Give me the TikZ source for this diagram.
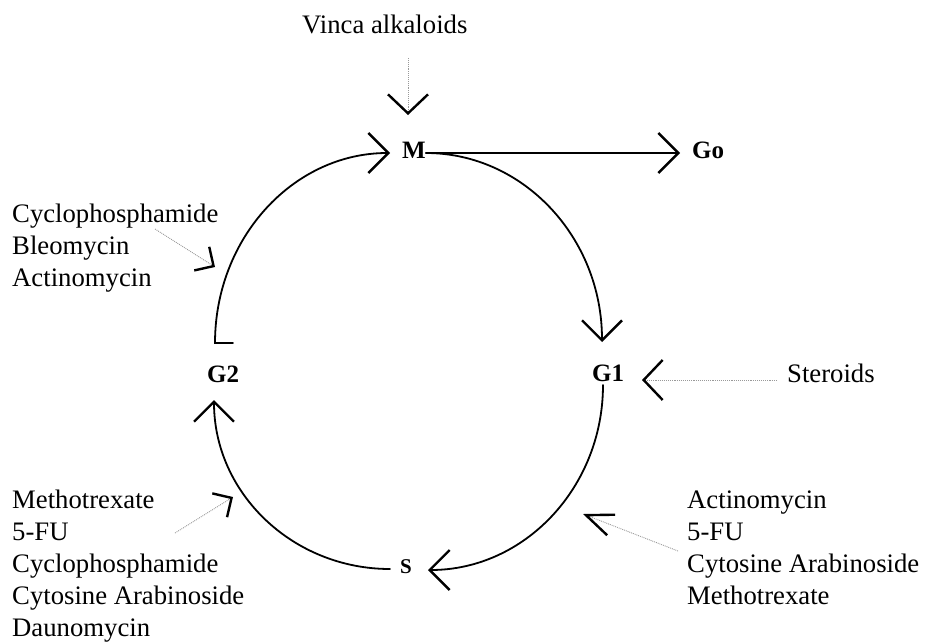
\documentclass[tikz,border=0pt]{standalone}
\usepackage{fontspec}
\setmainfont{Liberation Serif}
\usetikzlibrary{arrows.meta}
\begin{document}
\begin{tikzpicture}[x=1pt,y=-1pt,
  cyc/.style={line width=1.8pt, line cap=round,
    -{Straight Barb[length=20pt,width=40pt,line width=2.4pt]}},
  drug/.style={gray!80, line width=0.9pt, densely dotted},
  bighead/.style={-{Straight Barb[black,length=19pt,width=40pt,line width=2.4pt]}},
  cornerhead/.style={-{Straight Barb[black,length=14pt,width=28pt,line width=2.4pt]}},
  narrowhead/.style={-{Straight Barb[black,length=27pt,width=22pt,line width=2.4pt]}},
  lab/.style={font=\fontsize{25}{30}\selectfont\bfseries, inner sep=1pt, anchor=base west},
  txt/.style={font=\fontsize{26.7}{32}\selectfont, align=left, inner sep=0pt, anchor=base west}]
\useasboundingbox (0,0) rectangle (928,643);

% phase labels
\node[lab] (M)  at (401,158) {M};
\node[lab] (Go) at (691,158) {Go};
\node[lab] (G1) at (591,381) {G1};
\node[lab] (G2) at (206,382) {G2};
\node[lab, font=\fontsize{21}{25}\selectfont\bfseries] (S) at (399,573) {S};

% drug labels (base anchor = baseline of the last line)
\node[txt] (vinca) at (302,33) {Vinca alkaloids};
\node[txt] (ster)  at (787,382) {Steroids};
\node[txt] (tl) at (12,286) {Cyclophosphamide\\Bleomycin\\Actinomycin};
\node[txt] (bl) at (12,636) {Methotrexate\\5-FU\\Cyclophosphamide\\Cytosine Arabinoside\\Daunomycin};
\node[txt] (br) at (687,604) {Actinomycin\\5-FU\\Cytosine Arabinoside\\Methotrexate};

% cycle coordinates
\coordinate (g2tick) at (233,343);
\coordinate (g2top)  at (215,343);
\coordinate (min)    at (390,153);
\coordinate (mout)   at (426,153);
\coordinate (gotip)  at (680,153);
\coordinate (g1in)   at (602,342);
\coordinate (g1out)  at (603,385);
\coordinate (sin)    at (428,570);
\coordinate (sout)   at (390,569);
\coordinate (g2in)   at (214,400);

% cycle arrows
\draw[cyc] (mout) -- (gotip);
\draw[cyc] (g2tick) -- (g2top) .. controls (215,238.1) and (293.3,153) .. (min);
\draw[cyc] (mout) .. controls (523.2,153) and (602,237.6) .. (g1in);
\draw[cyc] (g1out) .. controls (603,487.2) and (524.7,570) .. (sin);
\draw[cyc] (sout) .. controls (292.8,569) and (214,493.3) .. (g2in);

% drug arrows
\coordinate (vfrom) at (408,58);   \coordinate (vto) at (408,115);
\coordinate (sfrom) at (777,380);  \coordinate (sto) at (642,380);
\coordinate (tlfrom) at (155,229); \coordinate (tlto) at (215,267);
\coordinate (blfrom) at (175,533); \coordinate (blto) at (233,497);
\coordinate (brfrom) at (678,551); \coordinate (brto) at (583,514);

\draw[drug, bighead] (vfrom) -- (vto);
\draw[drug, bighead] (sfrom) -- (sto);
\draw[drug, cornerhead] (tlfrom) -- (tlto);
\draw[drug, cornerhead] (blfrom) -- (blto);
\draw[drug, narrowhead] (brfrom) -- (brto);
\end{tikzpicture}
\end{document}
